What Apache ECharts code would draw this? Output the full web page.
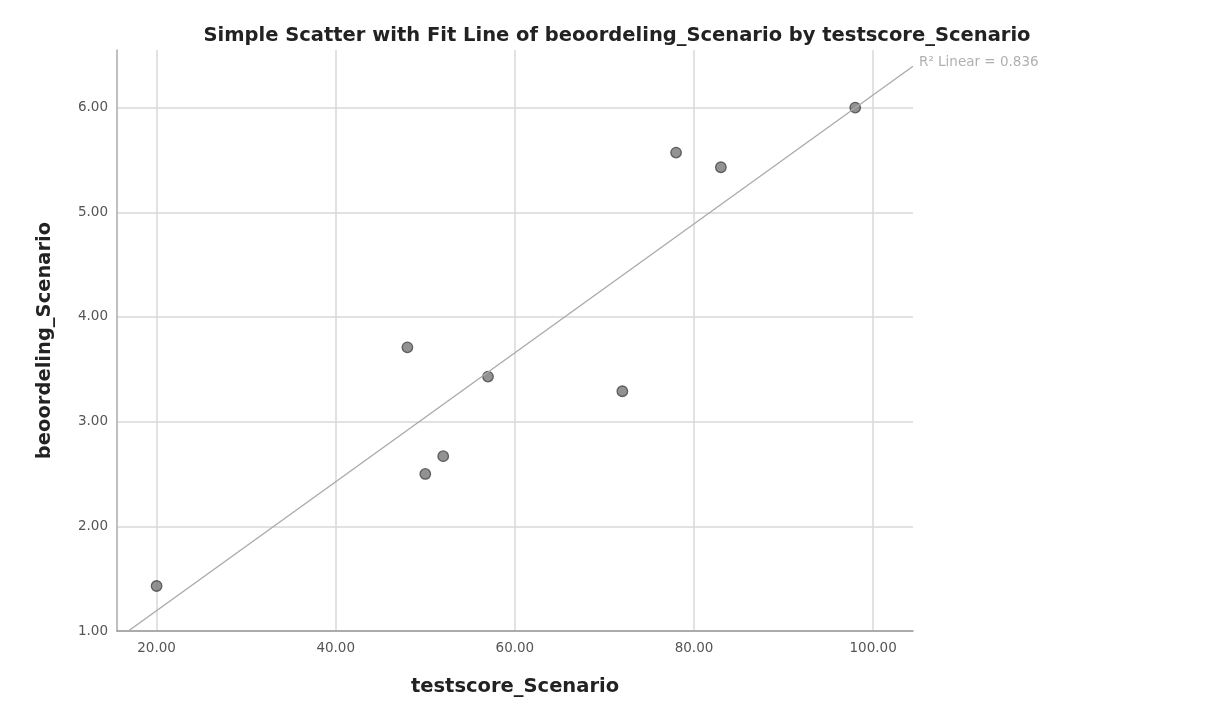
<!DOCTYPE html>
<html>
<head>
<meta charset="utf-8">
<script src="https://cdn.jsdelivr.net/npm/echarts@6/dist/echarts.min.js"></script>
<style>
  html, body { margin: 0; padding: 0; background: #fff; }
  #chart { width: 1211px; height: 713px; }
</style>
</head>
<body>
<div id="chart"></div>
<script>
// testscore_Scenario vs beoordeling_Scenario
let testscore = [20, 48, 50, 52, 57, 72, 78, 83, 98]
let beoordeling = [1.43, 3.71, 2.5, 2.67, 3.43, 3.29, 5.57, 5.43, 6.0]
let xTicks = [20, 40, 60, 80, 100]
let xRange = [15.58, 104.45]
let yRange = [1, 6.55]

// least squares fit
function linearFit(xs, ys) {
  let n = xs.length
  let mx = xs.reduce((a, b) => a + b, 0) / n
  let my = ys.reduce((a, b) => a + b, 0) / n
  let sxy = 0, sxx = 0, syy = 0
  xs.forEach((x, i) => {
    sxy += (x - mx) * (ys[i] - my)
    sxx += (x - mx) * (x - mx)
    syy += (ys[i] - my) * (ys[i] - my)
  })
  let slope = sxy / sxx
  return { slope: slope, intercept: my - slope * mx, r2: sxy * sxy / (sxx * syy) }
}
let fit = linearFit(testscore, beoordeling)
let fitLine = xRange.map(x => [x, fit.intercept + fit.slope * x])
let points = testscore.map((x, i) => [x, beoordeling[i]])

let font = "DejaVu Sans"
let nameStyle = { fontFamily: font, fontSize: 19.5, fontWeight: "bold", color: "#222" }
let option = {
  animation: false,
  backgroundColor: "#fff",
  title: {
    text: "Simple Scatter with Fit Line of beoordeling_Scenario by testscore_Scenario",
    left: 612, top: 21, textAlign: "center",
    textStyle: nameStyle
  },
  grid: { left: 117, right: 298, top: 50, bottom: 82 },
  xAxis: {
    type: "value", min: xRange[0], max: xRange[1],
    name: "testscore_Scenario", nameLocation: "middle", nameGap: 46,
    nameTextStyle: nameStyle,
    axisLine: { show: true, lineStyle: { color: "#999", width: 1.5 } },
    axisTick: { show: false, customValues: xTicks },
    axisLabel: { customValues: xTicks, formatter: v => v.toFixed(2), fontFamily: font, fontSize: 13.5, color: "#555", margin: 10 },
    splitLine: { show: true, lineStyle: { color: "#d9d9d9", width: 1.5 } }
  },
  yAxis: {
    type: "value", min: yRange[0], max: yRange[1], interval: 1,
    name: "beoordeling_Scenario", nameLocation: "middle", nameGap: 62,
    nameTextStyle: nameStyle,
    axisLine: { show: true, lineStyle: { color: "#aaa", width: 1.5 } },
    axisTick: { show: false },
    axisLabel: { formatter: v => v.toFixed(2), fontFamily: font, fontSize: 13.5, color: "#555", margin: 9, showMaxLabel: false },
    splitLine: { show: true, showMaxLine: false, lineStyle: { color: "#d9d9d9", width: 1.5 } }
  },
  series: [
    {
      type: "line", data: fitLine, clip: true, symbol: "none", silent: true,
      lineStyle: { color: "#aaa", width: 1.3 },
      endLabel: {
        show: true, formatter: "R² Linear = " + fit.r2.toFixed(3),
        fontFamily: font, fontSize: 13.5, color: "#b0b0b0", distance: 6,
        align: "left", verticalAlign: "middle", offset: [0, -4]
      }
    },
    {
      type: "scatter", data: points, symbol: "circle", symbolSize: 10.5,
      itemStyle: { color: "#777", borderColor: "#444", borderWidth: 1.3 }
    }
  ]
}
let chart = echarts.init(document.getElementById("chart"))
chart.setOption(option)
</script>
</body>
</html>
